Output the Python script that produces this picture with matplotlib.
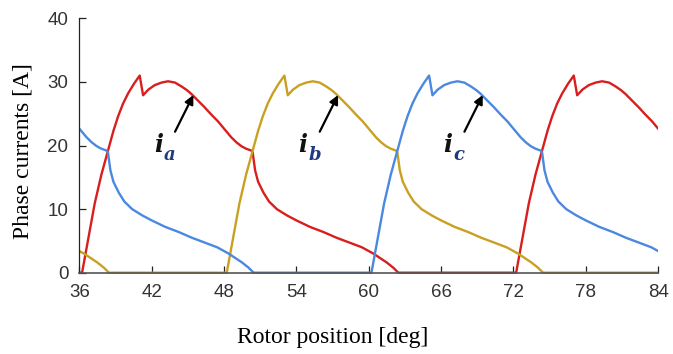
import numpy as np
import matplotlib
matplotlib.use("Agg")
import matplotlib.pyplot as plt
from matplotlib.patches import Rectangle

# Phase current profile over one conduction interval, measured from turn-on [deg, A]
profile_angle = [0.00, 0.55, 1.05, 1.60, 2.16, 2.60, 2.99, 3.40, 3.82, 4.30, 4.78,
                 5.06, 5.50, 6.03, 6.60, 7.13, 7.70, 8.24, 8.70, 9.07, 9.60, 10.17,
                 10.70, 11.27, 11.80, 12.37, 12.80, 13.21, 13.60, 14.04, 14.15, 14.25,
                 14.35, 14.60, 15.04, 15.50, 16.15, 17.00, 17.80, 18.90, 20.01, 21.10,
                 22.22, 23.20, 24.16, 24.80, 25.27, 25.80, 26.23]
profile_current = [0.0, 5.7, 10.9, 15.4, 19.3, 22.3, 24.6, 26.6, 28.2, 29.7, 31.0,
                   27.9, 28.8, 29.5, 29.9, 30.1, 29.9, 29.3, 28.7, 28.1, 27.1, 26.0,
                   24.9, 23.8, 22.6, 21.3, 20.5, 19.9, 19.5, 19.2, 18.9, 17.5,
                   16.1, 14.3, 12.6, 11.2, 10.0, 9.0, 8.2, 7.2, 6.4, 5.5,
                   4.7, 4.0, 3.0, 2.2, 1.6, 0.8, 0.0]

# Turn-on angle of each phase and the electrical period in rotor degrees
phase_names = ["a", "b", "c"]
phase_on = [36.22, 48.22, 60.22]
period = 36.0
phase_colors = ["#d81e1e", "#c9a022", "#4b89e0"]

x_min, x_max = 36, 84
x_ticks = [36, 42, 48, 54, 60, 66, 72, 78, 84]
y_ticks = [0, 10, 20, 30, 40]

# Label and arrow placement for phase a; b and c repeat every 12 deg
label_i_pos = (42.17, 19.03)
label_sub_pos = (43.0, 17.74)
arrow_tail = (43.93, 22.17)
arrow_tip = (45.45, 27.94)
label_step = 12.0


def phase_curve(on_angle):
    xs, ys = [], []
    for k in range(-2, 3):
        start = on_angle + k * period
        xs.extend(start + np.array(profile_angle))
        ys.extend(profile_current)
    return np.array(xs), np.array(ys)


fig = plt.figure(figsize=(6.73, 3.54), dpi=100)
ax = fig.add_axes([0.118, 0.2297, 0.860, 0.7185])

clip_rect = Rectangle((0, -0.03), 1, 1.06, transform=ax.transAxes,
                      facecolor="none", edgecolor="none")
ax.add_patch(clip_rect)

for name, on, color in zip(phase_names, phase_on, phase_colors):
    xs, ys = phase_curve(on)
    line, = ax.plot(xs, ys, color=color, lw=1.7, solid_joinstyle="round")
    line.set_clip_path(clip_rect)

ax.set_xlim(x_min, x_max)
ax.set_ylim(0, 40)
ax.set_xticks(x_ticks)
ax.set_yticks(y_ticks)

for side in ("top", "right"):
    ax.spines[side].set_visible(False)
ax.spines["left"].set_color("#222222")
ax.spines["left"].set_linewidth(0.9)
ax.spines["bottom"].set_color("#555555")
ax.spines["bottom"].set_linewidth(1.2)

ax.tick_params(direction="in", length=5, width=0.9, colors="#222222",
               labelsize=13.5, labelcolor="#333333")
ax.tick_params(axis="x", pad=8)
ax.tick_params(axis="y", pad=8)
for lab in ax.get_xticklabels() + ax.get_yticklabels():
    lab.set_fontfamily("Liberation Sans")

ax.set_xlabel("Rotor position [deg]", fontfamily="Liberation Serif", fontsize=17)
ax.set_ylabel("Phase currents [A]", fontfamily="Liberation Serif", fontsize=17)
ax.xaxis.set_label_coords(0.438, -0.212)
ax.yaxis.set_label_coords(-0.079, 0.48)

for i, name in enumerate(phase_names):
    dx = i * label_step
    ax.text(label_i_pos[0] + dx, label_i_pos[1], "i", fontfamily="DejaVu Serif",
            fontstyle="italic", fontweight="bold", fontsize=17, color="#111111",
            ha="left", va="baseline")
    ax.text(label_sub_pos[0] + dx, label_sub_pos[1], name, fontfamily="DejaVu Serif",
            fontstyle="italic", fontweight="bold", fontsize=13, color="#1f3a80",
            ha="left", va="baseline")
    ax.annotate("", xy=(arrow_tip[0] + dx, arrow_tip[1]),
                xytext=(arrow_tail[0] + dx, arrow_tail[1]),
                arrowprops=dict(arrowstyle="-|>", color="black", lw=1.6,
                                mutation_scale=13, shrinkA=0, shrinkB=0))

fig.savefig("out.png", dpi=100)
